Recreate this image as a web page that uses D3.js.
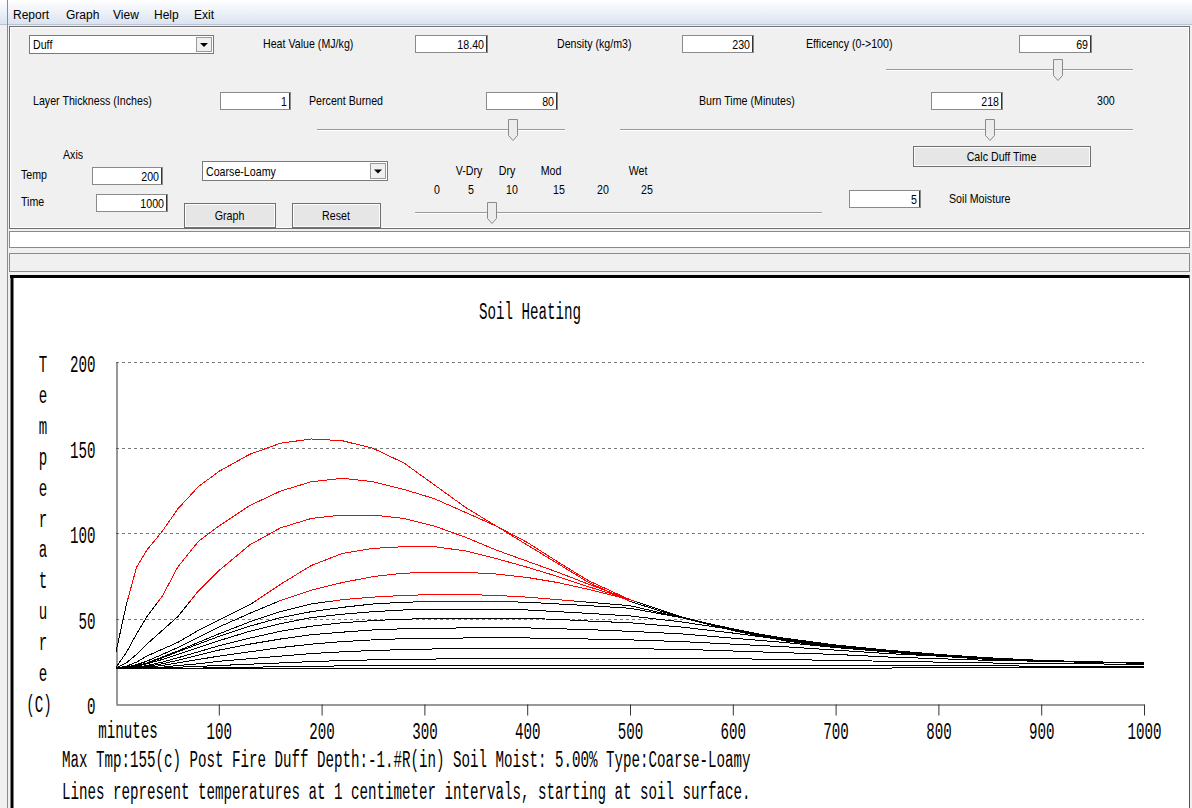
<!DOCTYPE html>
<html>
<head>
<meta charset="utf-8">
<script src="https://cdn.jsdelivr.net/npm/d3@7"></script>
<style>
body { margin: 0; background: #f0f0f0; overflow: hidden; }
svg { display: block; }
</style>
</head>
<body>
<script>
// ---- data ----
var menuItems = ["Report", "Graph", "View", "Help", "Exit"];
var timeMinutes = [0, 10, 20, 30, 45, 60, 80, 100, 130, 160, 190, 220, 250, 280, 310, 340, 370, 400, 430, 460, 500, 550, 600, 650, 700, 750, 800, 850, 900, 950, 1000];

// temperature (C) at 1 cm depth steps, surface first
var cm0  = [30.5, 58, 80, 90, 101, 114, 127, 136, 146, 152.5, 155, 154, 149.5, 141, 128, 115, 104, 93, 82, 71, 60, 50.5, 43, 37, 33, 30.5, 28, 26, 25, 24.3, 23.8];
var cm1  = [21.5, 30, 41, 51, 63, 80, 95, 104, 116, 124.5, 130, 132, 130, 125.5, 120, 112, 104, 94.5, 83, 72, 61, 51, 43.5, 37.5, 33.5, 30.8, 28.3, 26.3, 25.2, 24.4, 24];
var cm2  = [21, 24, 29, 35, 43, 51, 66, 78, 93, 103, 108.5, 110.5, 110.5, 108.5, 104, 97.5, 90, 83.5, 77, 70, 61, 51, 43.5, 37.5, 33.5, 30.8, 28.3, 26.3, 25.2, 24.4, 24];
var cm3  = [21, 22, 24.5, 28, 32, 36, 43, 49, 58, 70, 81, 88, 91, 92, 92, 89.5, 85, 80, 74.5, 68.5, 61, 51, 43.5, 37.5, 33.5, 30.8, 28.3, 26.3, 25.2, 24.4, 24];
var cm4  = [21, 21.5, 23, 25, 29, 33, 39, 45, 53, 60.5, 66.5, 71, 74.5, 76.5, 77, 77, 76, 74, 71, 67, 61, 51, 43.5, 37.5, 33.5, 30.8, 28.3, 26.3, 25.2, 24.4, 24];
var cm5  = [21, 21.5, 22.5, 24, 27.5, 31, 36, 41, 48, 54, 58.5, 61, 62.5, 63.5, 64, 64, 63.5, 62.5, 61, 59.5, 57.5, 50.5, 43.5, 37.5, 33.5, 30.8, 28.3, 26.3, 25.2, 24.4, 24];
var cm6  = [21, 21.5, 22.5, 24, 27, 30.5, 35, 39.5, 45.5, 50.5, 54, 56.5, 58.5, 59.5, 60, 60, 60, 59.5, 58.5, 57.5, 56, 50.5, 44, 38, 34, 31, 28.5, 26.5, 25.3, 24.5, 24];
var cm7  = [21, 21.2, 22, 23.5, 26, 29, 33, 37, 42.5, 47, 50.5, 52.5, 54, 55, 55.5, 55.5, 55.5, 55, 54, 53, 51.5, 48, 43.5, 38.5, 34.5, 31.5, 29, 27, 25.5, 24.7, 24];
var cm8  = [21, 21, 21.5, 22.5, 24.5, 27, 30.5, 34, 38.5, 42.5, 45.5, 47.5, 48.8, 49.6, 50, 50, 50, 50, 49.5, 48.5, 47.5, 45, 41.5, 37.5, 34, 31.5, 29, 27, 25.5, 24.7, 24];
var cm9  = [21, 21, 21.2, 22, 23.5, 25.5, 28.5, 31.5, 35, 38, 40.5, 42, 43.3, 44, 44.3, 44.5, 44.5, 44.5, 44, 43.5, 42.5, 41, 38.5, 36, 33, 30.5, 28.5, 26.8, 25.5, 24.5, 24];
var cm10 = [21, 21, 21, 21.5, 22.5, 24, 26, 28, 30.5, 33, 35, 36.5, 37.5, 38.2, 38.5, 38.6, 38.6, 38.6, 38.5, 38, 37.5, 36.5, 35, 33.5, 31.5, 29.5, 28, 26.5, 25.5, 24.5, 24];
var cm11 = [21, 21, 21, 21, 21.5, 22.5, 23.5, 25, 26.5, 28, 29.5, 30.5, 31.3, 31.8, 32.2, 32.3, 32.5, 32.5, 32.5, 32.5, 32.3, 32, 31, 30, 29, 27.5, 26.5, 25.5, 25, 24.5, 24];
var cm12 = [21, 21, 21, 21, 21, 21.5, 22, 22.5, 23.3, 24, 24.8, 25.4, 25.8, 26.1, 26.3, 26.5, 26.5, 26.5, 26.5, 26.5, 26.5, 26.5, 26.5, 26, 25.5, 25, 24.5, 24, 23.5, 23.5, 23];
var cm13 = [21, 21, 21, 21, 21, 21, 21, 21.2, 21.5, 21.8, 22, 22.3, 22.5, 22.5, 22.5, 22.5, 22.5, 22.5, 22.5, 22.5, 22.5, 22.5, 22.5, 22.5, 22.5, 22.5, 22.5, 22.5, 22, 22, 22];
var cm14 = [21, 21, 21, 21, 21, 21, 21, 21, 21, 21, 21, 21, 21, 21, 21, 21, 21, 21, 21, 21, 21, 21, 21, 21, 21, 21, 21.5, 21.5, 21.5, 21.5, 21.5];

var depthSeries = [cm14, cm13, cm12, cm11, cm10, cm9, cm8, cm7, cm6, cm5, cm4, cm3, cm2, cm1, cm0];
var tempTicks = [0, 50, 100, 150, 200];
var timeTicks = [100, 200, 300, 400, 500, 600, 700, 800, 900, 1000];
var lethalTemp = 60;
var yAxisLetters = ["T", "e", "m", "p", "e", "r", "a", "t", "u", "r", "e", "(C)"];
var moistWords = ["V-Dry", "Dry", "Mod", "Wet"];
var moistNums = ["0", "5", "10", "15", "20", "25"];
var titleText = "Soil Heating";
var infoLine1 = "Max Tmp:155(c) Post Fire Duff Depth:-1.#R(in) Soil Moist: 5.00% Type:Coarse-Loamy";
var infoLine2 = "Lines represent temperatures at 1 centimeter intervals, starting at soil surface.";

// ---- page ----
var W = 1192, H = 808;
var uiFont = "'Liberation Sans', Arial, sans-serif";
var chFont = "'Liberation Mono', 'Courier New', monospace";
var charW = 8.5;

var svg = d3.select("body").append("svg")
    .attr("width", W)
    .attr("height", H);

var defs = svg.append("defs");
var grad = defs.append("linearGradient").attr("id", "menuGrad")
    .attr("x1", 0).attr("y1", 0).attr("x2", 0).attr("y2", 1);
grad.append("stop").attr("offset", "0%").attr("stop-color", "#ffffff");
grad.append("stop").attr("offset", "100%").attr("stop-color", "#dbe3f0");

svg.append("rect").attr("width", W).attr("height", H).attr("fill", "#f0f0f0");

// menu bar
svg.append("rect").attr("x", 0).attr("y", 0).attr("width", W).attr("height", 24).attr("fill", "url(#menuGrad)");
svg.append("line").attr("x1", 0).attr("x2", W).attr("y1", 24.5).attr("y2", 24.5).attr("stroke", "#b9c3d3");
var menuX = [13, 66, 113, 154, 194];
svg.selectAll(".menu").data(menuItems).enter().append("text")
    .attr("class", "menu")
    .attr("x", (d, i) => menuX[i])
    .attr("y", 19)
    .style("font-family", uiFont)
    .style("font-size", "12px")
    .attr("fill", "#000")
    .text(d => d);

// window frame left edge
svg.append("line").attr("x1", 7.5).attr("x2", 7.5).attr("y1", 0).attr("y2", H).attr("stroke", "#8c8c8c");

// control panel
svg.append("rect").attr("x", 9.5).attr("y", 26.5).attr("width", 1180).attr("height", 202)
    .attr("fill", "#f0f0f0").attr("stroke", "#6e6e6e");
svg.append("rect").attr("x", 10.5).attr("y", 27.5).attr("width", 1178).attr("height", 200)
    .attr("fill", "none").attr("stroke", "#ffffff");

function label(txt, x, y, anchor) {
    svg.append("text")
        .attr("transform", "translate(" + x + "," + y + ") scale(0.82,1)")
        .attr("text-anchor", anchor || "start")
        .style("font-family", uiFont)
        .style("font-size", "13px")
        .attr("fill", "#000")
        .text(txt);
}

function textBox(x, y, w, h, val) {
    svg.append("rect").attr("x", x + 0.5).attr("y", y + 0.5).attr("width", w).attr("height", h)
        .attr("fill", "#fff").attr("stroke", "#8a8a8a");
    svg.append("line").attr("x1", x + w - 0.5).attr("x2", x + w - 0.5).attr("y1", y + 1).attr("y2", y + h)
        .attr("stroke", "#333");
    label(val, x + w - 3, y + h - 3, "end");
}

function button(x, y, w, h, txt) {
    svg.append("rect").attr("x", x + 0.5).attr("y", y + 0.5).attr("width", w).attr("height", h)
        .attr("fill", "#e6e6e6").attr("stroke", "#707070");
    svg.append("rect").attr("x", x + 1.5).attr("y", y + 1.5).attr("width", w - 2).attr("height", h - 2)
        .attr("fill", "none").attr("stroke", "#fcfcfc");
    label(txt, x + w / 2, y + h / 2 + 5, "middle");
}

function combo(x, y, w, h, txt) {
    svg.append("rect").attr("x", x + 0.5).attr("y", y + 0.5).attr("width", w).attr("height", h)
        .attr("fill", "#fff").attr("stroke", "#7a7a7a");
    svg.append("rect").attr("x", x + w - 16.5).attr("y", y + 2.5).attr("width", 15).attr("height", h - 4)
        .attr("fill", "#f0f0f0").attr("stroke", "#9a9a9a");
    var cx = x + w - 9, cy = y + h / 2 + 1;
    svg.append("path").attr("d", "M" + (cx - 4) + "," + (cy - 2) + "L" + (cx + 4) + "," + (cy - 2) + "L" + cx + "," + (cy + 2) + "Z")
        .attr("fill", "#000");
    label(txt, x + 4, y + h - 4);
}

function slider(x1, x2, y, tx) {
    svg.append("line").attr("x1", x1).attr("x2", x2).attr("y1", y - 0.5).attr("y2", y - 0.5).attr("stroke", "#9a9a9a");
    svg.append("line").attr("x1", x1).attr("x2", x2).attr("y1", y + 0.5).attr("y2", y + 0.5).attr("stroke", "#fff");
    svg.append("path")
        .attr("d", "M" + (tx - 4.5) + "," + (y - 10.5) + "L" + (tx + 4.5) + "," + (y - 10.5) + "L" + (tx + 4.5) + "," + (y + 5.5) +
            "L" + tx + "," + (y + 10.5) + "L" + (tx - 4.5) + "," + (y + 5.5) + "Z")
        .attr("fill", "#ececec").attr("stroke", "#8a8a8a");
}

combo(29, 35, 184, 18, "Duff");
label("Heat Value (MJ/kg)", 263, 48);
textBox(415, 35, 72, 17, "18.40");
label("Density (kg/m3)", 557, 48);
textBox(682, 35, 71, 17, "230");
label("Efficency (0->100)", 806, 48);
textBox(1019, 35, 72, 17, "69");
slider(886, 1133, 70, 1058);

label("Layer Thickness (Inches)", 33, 105);
textBox(220, 92, 70, 17, "1");
label("Percent Burned", 309, 105);
textBox(486, 92, 71, 17, "80");
label("Burn Time (Minutes)", 699, 105);
textBox(931, 92, 71, 17, "218");
label("300", 1097, 105);
slider(317, 565, 130, 513);
slider(620, 1133, 130, 990);
button(913, 146, 177, 20, "Calc Duff Time");

label("Axis", 63, 159);
label("Temp", 21, 179);
textBox(92, 167, 70, 17, "200");
label("Time", 21, 206);
textBox(96, 194, 71, 17, "1000");
combo(202, 161, 185, 19, "Coarse-Loamy");
button(184, 203, 91, 24, "Graph");
button(292, 203, 88, 24, "Reset");

var moistWordX = [469, 507, 551, 638];
moistWords.forEach((d, i) => label(d, moistWordX[i], 175, "middle"));
var moistNumX = [437, 471, 512, 559, 603, 647];
moistNums.forEach((d, i) => label(d, moistNumX[i], 194, "middle"));
slider(415, 822, 213, 492);
textBox(849, 190, 71, 17, "5");
label("Soil Moisture", 949, 203);

// status strips
svg.append("rect").attr("x", 9.5).attr("y", 231.5).attr("width", 1180).attr("height", 16)
    .attr("fill", "#fff").attr("stroke", "#8a8a8a");
svg.append("rect").attr("x", 9.5).attr("y", 253.5).attr("width", 1180).attr("height", 18)
    .attr("fill", "#f0f0f0").attr("stroke", "#8a8a8a");

// chart panel
svg.append("rect").attr("x", 10).attr("y", 275).attr("width", 1180).attr("height", H - 275).attr("fill", "#fff");
svg.append("line").attr("x1", 10).attr("x2", 1190).attr("y1", 276.5).attr("y2", 276.5).attr("stroke", "#000").attr("stroke-width", 3);
svg.append("line").attr("x1", 12).attr("x2", 12).attr("y1", 275).attr("y2", H).attr("stroke", "#000").attr("stroke-width", 3);
svg.append("line").attr("x1", 1189.5).attr("x2", 1189.5).attr("y1", 275).attr("y2", H).attr("stroke", "#555");

// ---- the chart ----
var x = d3.scaleLinear().domain([0, 1000]).range([116, 1144]);
var y = d3.scaleLinear().domain([0, 200]).range([704, 362]);

function chText(sel) {
    sel.style("font-family", chFont)
        .style("font-size", "23px")
        .attr("fill", "#000")
        .attr("lengthAdjust", "spacingAndGlyphs")
        .attr("textLength", function () { return this.textContent.length * charW; });
}

var plot = svg.append("g");

// dashed grid
plot.selectAll(".grid").data(tempTicks.filter(d => d > 0)).enter().append("line")
    .attr("x1", x(0)).attr("x2", x(1000))
    .attr("y1", d => Math.round(y(d)) + 0.5).attr("y2", d => Math.round(y(d)) + 0.5)
    .attr("stroke", "#7a7a7a")
    .attr("stroke-dasharray", "3,3");

// x axis
var xAxis = plot.append("g")
    .attr("transform", "translate(0," + (y(0) + 0.5) + ")")
    .call(d3.axisBottom(x).tickValues(timeTicks).tickSize(11).tickSizeOuter(0).tickFormat(d3.format("d")));
xAxis.select(".domain").attr("stroke", "#333");
xAxis.selectAll(".tick line").attr("stroke", "#333");
xAxis.selectAll(".tick text").attr("y", 34).attr("dy", null).call(chText);

// y axis
var yAxis = plot.append("g")
    .attr("transform", "translate(" + (x(0) + 0.5) + ",0)")
    .call(d3.axisLeft(y).tickValues(tempTicks).tickSize(0).tickPadding(21).tickFormat(d3.format("d")));
yAxis.select(".domain").attr("stroke", "#333");
yAxis.selectAll(".tick text").attr("dy", "0.42em").call(chText);

plot.append("text").attr("x", 128).attr("y", y(0) + 34).attr("text-anchor", "middle").text("minutes").call(chText);

plot.selectAll(".ylet").data(yAxisLetters).enter().append("text")
    .attr("x", (d, i) => i === yAxisLetters.length - 1 ? 39 : 43)
    .attr("y", (d, i) => 372 + i * 30.9)
    .attr("text-anchor", "middle")
    .text(d => d)
    .call(chText);

plot.append("text").attr("x", 530).attr("y", 319).attr("text-anchor", "middle").text(titleText).call(chText);
plot.append("text").attr("x", 62).attr("y", 767).text(infoLine1).call(chText);
plot.append("text").attr("x", 62).attr("y", 799).text(infoLine2).call(chText);

// temperature lines: black everywhere, red where above the lethal temperature
defs.append("clipPath").attr("id", "hotClip").append("rect")
    .attr("x", 0).attr("y", 0).attr("width", W).attr("height", y(lethalTemp));

var line = d3.line()
    .x((d, i) => x(timeMinutes[i]))
    .y(d => y(d));

plot.append("g").selectAll("path").data(depthSeries).enter().append("path")
    .attr("d", line)
    .attr("fill", "none")
    .attr("stroke", "#000")
    .attr("stroke-width", 1)
    .attr("shape-rendering", "crispEdges");

plot.append("g").attr("clip-path", "url(#hotClip)")
    .selectAll("path").data(depthSeries).enter().append("path")
    .attr("d", line)
    .attr("fill", "none")
    .attr("stroke", "#ff0000")
    .attr("stroke-width", 1)
    .attr("shape-rendering", "crispEdges");
</script>
</body>
</html>
